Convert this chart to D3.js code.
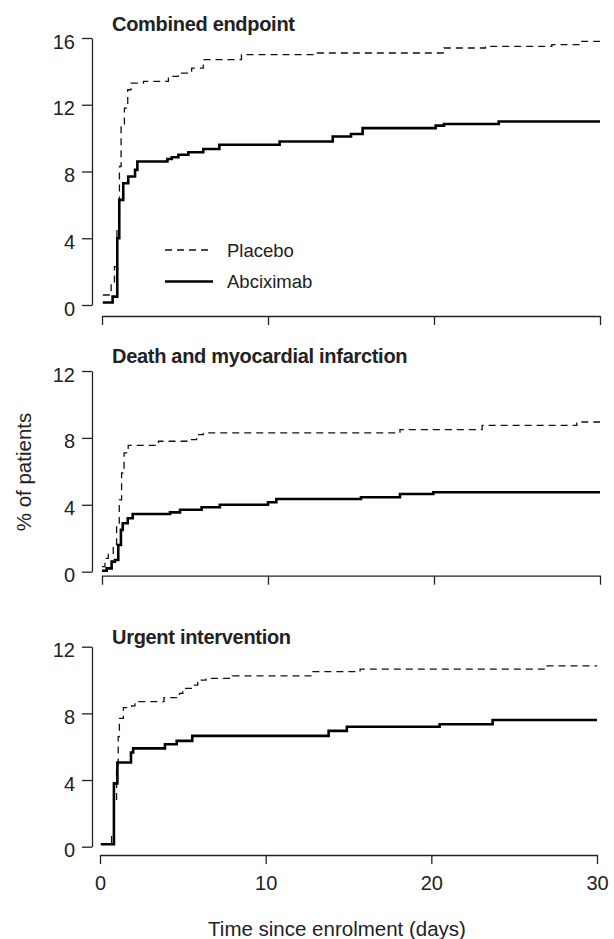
<!DOCTYPE html>
<html>
<head>
<meta charset="utf-8">
<script src="https://cdn.jsdelivr.net/npm/d3@7/dist/d3.min.js"></script>
<style>
  html, body { margin: 0; padding: 0; background: #fff; }
  svg { display: block; }
  text { font-family: "Liberation Sans", Arial, sans-serif; fill: #222; }
</style>
</head>
<body>
<svg id="chart" width="614" height="939"></svg>
<script>
// ---- Data (day, cumulative % of patients) ----
const panelTitles = ["Combined endpoint", "Death and myocardial infarction", "Urgent intervention"];
const seriesNames = ["Placebo", "Abciximab"];
const xTicks = [0, 10, 20, 30];
const yTicksTop = [0, 4, 8, 12, 16];
const yTicksOther = [0, 4, 8, 12];

const combinedPlacebo = [[0.05,0.6],[0.55,1.2],[0.75,2.3],[0.9,4.7],[1.05,8.3],[1.15,10.8],[1.35,11.8],[1.55,12.9],[1.75,13.3],[2.5,13.4],[4.0,13.7],[4.6,13.9],[5.4,14.2],[6.1,14.7],[8.4,15.0],[12.8,15.1],[20.6,15.4],[23.1,15.5],[27.1,15.6],[28.8,15.8],[30,15.8]];
const combinedAbciximab = [[0.05,0.15],[0.64,0.5],[0.92,4.0],[1.04,6.3],[1.28,7.3],[1.58,7.7],[1.99,8.1],[2.13,8.6],[3.94,8.75],[4.2,8.85],[4.6,9.0],[5.2,9.15],[6.1,9.35],[7.07,9.6],[10.7,9.8],[13.9,10.1],[15.0,10.25],[15.7,10.6],[20.1,10.75],[20.6,10.85],[23.9,11.0],[30,11.0]];

const deathMiPlacebo = [[0.0,0.3],[0.18,0.8],[0.38,1.05],[0.68,1.6],[0.88,2.9],[1.04,4.3],[1.18,5.9],[1.33,7.1],[1.58,7.55],[3.4,7.8],[5.1,7.9],[5.7,8.2],[6.1,8.3],[17.95,8.5],[22.9,8.75],[28.6,8.95],[30,8.95]];
const deathMiAbciximab = [[0,0.06],[0.28,0.2],[0.58,0.6],[0.78,0.7],[0.98,1.6],[1.14,2.5],[1.25,2.9],[1.55,3.2],[1.85,3.45],[4.1,3.55],[4.7,3.7],[6.0,3.85],[7.1,4.0],[10.0,4.15],[10.5,4.35],[15.6,4.45],[17.95,4.65],[19.96,4.75],[30,4.75]];

const urgentPlacebo = [[0.05,0.15],[0.7,0.7],[0.85,2.6],[1.0,4.8],[1.1,6.6],[1.17,7.7],[1.41,8.35],[1.91,8.45],[2.11,8.7],[3.86,8.95],[4.8,9.2],[5.0,9.5],[5.7,9.7],[5.9,10.0],[6.4,10.1],[8.0,10.25],[12.8,10.5],[15.7,10.65],[26.9,10.85],[30,10.85]];
const urgentAbciximab = [[0.05,0.15],[0.84,3.8],[1.05,5.05],[1.87,5.65],[2.0,5.9],[3.92,6.15],[4.63,6.35],[5.57,6.65],[13.8,6.95],[14.9,7.2],[20.5,7.35],[23.7,7.6],[30,7.6]];

const panelData = [
  [combinedPlacebo, combinedAbciximab],
  [deathMiPlacebo, deathMiAbciximab],
  [urgentPlacebo, urgentAbciximab]
];
const panelYMax = [16, 12, 12];
const panelYTicks = [yTicksTop, yTicksOther, yTicksOther];

// ---- Layout (pixels) ----
const layout = [
  { x0: 102, x1: 600, yTop: 38,  yBot: 305,   axisY: 316, titleY: 31 },
  { x0: 102, x1: 600, yTop: 371, yBot: 571.7, axisY: 575.7, titleY: 363 },
  { x0: 100, x1: 597, yTop: 646.7, yBot: 846.7, axisY: 855, titleY: 644 }
];
const yAxisX = 92;
const axisColor = "#222";

const svg = d3.select("#chart");

layout.forEach((L, i) => {
  const x = d3.scaleLinear().domain([0, 30]).range([L.x0, L.x1]);
  const y = d3.scaleLinear().domain([0, panelYMax[i]]).range([L.yBot, L.yTop]);

  // Y axis
  const ya = svg.append("g").attr("transform", `translate(${yAxisX},0)`)
    .call(d3.axisLeft(y).tickValues(panelYTicks[i]).tickSize(10).tickSizeOuter(0).tickPadding(7));
  ya.select(".domain").attr("stroke", axisColor).attr("stroke-width", 1.3);
  ya.selectAll(".tick line").attr("stroke", axisColor).attr("stroke-width", 1.3);
  ya.selectAll(".tick text").attr("font-size", 20).attr("dy", "0.5em")
    .attr("font-family", "Liberation Sans, Arial, sans-serif").attr("fill", "#222");

  // X axis
  const xa = svg.append("g").attr("transform", `translate(0,${L.axisY})`)
    .call(d3.axisBottom(x).tickValues(xTicks).tickSize(9).tickSizeOuter(0).tickPadding(12)
      .tickFormat(i === 2 ? d3.format("d") : () => ""));
  xa.select(".domain").attr("stroke", axisColor).attr("stroke-width", 1.3);
  xa.selectAll(".tick line").attr("stroke", axisColor).attr("stroke-width", 1.3);
  xa.selectAll(".tick text").attr("font-size", 20)
    .attr("font-family", "Liberation Sans, Arial, sans-serif").attr("fill", "#222");

  // Title
  svg.append("text").attr("x", 112).attr("y", L.titleY)
    .attr("font-size", 20).attr("font-weight", "bold").attr("letter-spacing", "-0.3")
    .attr("fill", "#111").text(panelTitles[i]);

  // Curves
  const line = d3.line().x(d => x(d[0])).y(d => y(d[1])).curve(d3.curveStepAfter);
  const [pl, ab] = panelData[i];
  svg.append("path").datum(pl).attr("d", line).attr("fill", "none")
    .attr("stroke", "#111").attr("stroke-width", 1.3).attr("stroke-dasharray", "7,5");
  svg.append("path").datum(ab).attr("d", line).attr("fill", "none")
    .attr("stroke", "#000").attr("stroke-width", 2.6);
});

// Legend (top panel)
const legend = svg.append("g");
legend.append("line").attr("x1", 165).attr("x2", 213).attr("y1", 250).attr("y2", 250)
  .attr("stroke", "#111").attr("stroke-width", 1.3).attr("stroke-dasharray", "7,5");
legend.append("line").attr("x1", 165).attr("x2", 213).attr("y1", 281.5).attr("y2", 281.5)
  .attr("stroke", "#000").attr("stroke-width", 2.6);
legend.append("text").attr("x", 227).attr("y", 256.5).attr("font-size", 18.5).text(seriesNames[0]);
legend.append("text").attr("x", 227).attr("y", 288).attr("font-size", 18.5).text(seriesNames[1]);

// Axis titles
svg.append("text").attr("x", 337).attr("y", 936).attr("text-anchor", "middle")
  .attr("font-size", 20.5).text("Time since enrolment (days)");
svg.append("text").attr("transform", "translate(31,472) rotate(-90)").attr("text-anchor", "middle")
  .attr("font-size", 20.5).text("% of patients");
</script>
</body>
</html>
